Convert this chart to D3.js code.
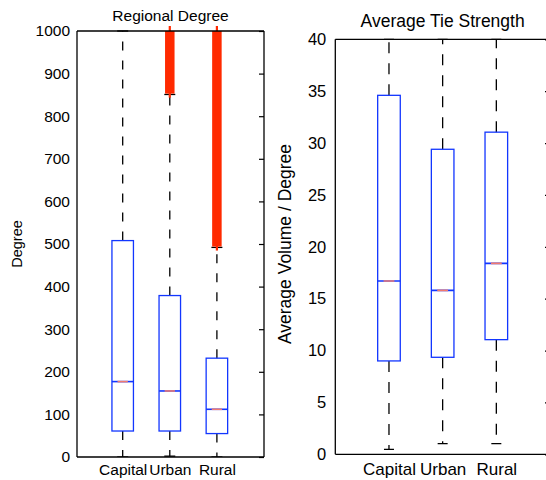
<!DOCTYPE html>
<html>
<head>
<meta charset="utf-8">
<script src="https://cdn.jsdelivr.net/npm/d3@7"></script>
<style>
  html, body { margin: 0; padding: 0; background: #fff; }
  svg { display: block; font-family: "Liberation Sans", Arial, Helvetica, sans-serif; }
</style>
</head>
<body>
<svg id="chart" width="546" height="480"></svg>
<script>
// ---------------- data ----------------
const categories = ["Capital", "Urban", "Rural"];

// Regional Degree
const degTicks = [0, 100, 200, 300, 400, 500, 600, 700, 800, 900, 1000];
const degQ1 = [61, 61, 55];
const degMedian = [177, 155, 112];
const degQ3 = [508, 379, 232];
const degWhiskerLow = [0, 2, 0];
const degWhiskerHigh = [1000, 851, 492];
const degOutlierLow = [null, 853, 494];
const degOutlierHigh = [null, 1000, 1000];

// Average Tie Strength
const tieTicks = [0, 5, 10, 15, 20, 25, 30, 35, 40];
const tieQ1 = [9.0, 9.35, 11.05];
const tieMedian = [16.7, 15.8, 18.4];
const tieQ3 = [34.6, 29.4, 31.05];
const tieWhiskerLow = [0.48, 1.02, 1.02];
const tieWhiskerHigh = [40, 40, 40];

// ---------------- drawing ----------------
const svg = d3.select("#chart");
const BLUE = "#1236ff";
const RED = "#ff2a00";

function panel(opts) {
  const g = svg.append("g");
  const x = d3.scaleLinear().domain(opts.xDomain).range([opts.left, opts.right]);
  const y = d3.scaleLinear().domain(opts.yDomain).range([opts.bottom, opts.top]);
  const clipId = "clip" + opts.id;
  svg.append("clipPath").attr("id", clipId).append("rect")
    .attr("x", opts.left).attr("y", opts.top - 6)
    .attr("width", opts.right - opts.left).attr("height", opts.bottom - opts.top + 6);

  const plot = g.append("g").attr("clip-path", `url(#${clipId})`);
  const bw = opts.boxW, cw = opts.capW;

  categories.forEach((c, i) => {
    const cx = x(i + 1);
    // upper whisker
    plot.append("line").attr("x1", cx).attr("x2", cx)
      .attr("y1", y(opts.q3[i])).attr("y2", y(opts.wHigh[i]))
      .attr("stroke", "#000").attr("stroke-width", 1.3)
      .attr("stroke-dasharray", opts.dash);
    // lower whisker
    plot.append("line").attr("x1", cx).attr("x2", cx)
      .attr("y1", y(opts.q1[i])).attr("y2", y(opts.wLow[i]))
      .attr("stroke", "#000").attr("stroke-width", 1.3)
      .attr("stroke-dasharray", opts.dash);
    // caps
    [opts.wHigh[i], opts.wLow[i]].forEach(v => {
      plot.append("line")
        .attr("x1", cx - cw / 2).attr("x2", cx + cw / 2)
        .attr("y1", y(v)).attr("y2", y(v))
        .attr("stroke", "#000").attr("stroke-width", 1.3);
    });
    // outliers (dense '+' markers forming a band)
    if (opts.oLow && opts.oLow[i] != null) {
      const yl = y(opts.oLow[i]), yh = y(opts.oHigh[i]);
      g.append("rect")
        .attr("x", cx - opts.outW / 2).attr("width", opts.outW)
        .attr("y", yh).attr("height", yl - yh)
        .attr("fill", RED);
      g.append("line").attr("x1", cx).attr("x2", cx)
        .attr("y1", yh - 5).attr("y2", yl + 4)
        .attr("stroke", RED).attr("stroke-width", 2.2);
    }
    // box
    plot.append("rect")
      .attr("x", cx - bw / 2).attr("width", bw)
      .attr("y", y(opts.q3[i])).attr("height", y(opts.q1[i]) - y(opts.q3[i]))
      .attr("fill", "none").attr("stroke", BLUE).attr("stroke-width", 1.3);
    // median
    plot.append("line")
      .attr("x1", cx - bw / 2).attr("x2", cx + bw / 2)
      .attr("y1", y(opts.med[i])).attr("y2", y(opts.med[i]))
      .attr("stroke", BLUE).attr("stroke-width", 1.6);
    plot.append("line")
      .attr("x1", cx - bw * 0.24).attr("x2", cx + bw * 0.24)
      .attr("y1", y(opts.med[i])).attr("y2", y(opts.med[i]))
      .attr("stroke", "#f07a70").attr("stroke-width", 1.6);
  });

  // axes frame
  const frame = g.append("g").attr("stroke", "#000").attr("stroke-width", 1.3);
  frame.append("line").attr("x1", opts.left).attr("x2", opts.left).attr("y1", opts.top).attr("y2", opts.bottom);
  frame.append("line").attr("x1", opts.right).attr("x2", opts.right).attr("y1", opts.top).attr("y2", opts.bottom);
  frame.append("line").attr("x1", opts.left).attr("x2", opts.right).attr("y1", opts.top).attr("y2", opts.top);
  frame.append("line").attr("x1", opts.left).attr("x2", opts.right).attr("y1", opts.bottom).attr("y2", opts.bottom);

  // y axis labels (left)
  const ya = g.append("g").attr("transform", `translate(${opts.left},0)`)
    .call(d3.axisLeft(y).tickValues(opts.ticks).tickSize(0).tickPadding(opts.tickPad).tickFormat(d3.format("d")));
  ya.select(".domain").remove();
  ya.selectAll("text").attr("font-size", opts.tickFont).attr("fill", "#000")
    .attr("font-family", "Liberation Sans, Arial, sans-serif");

  // right inward ticks
  const yr = g.append("g").attr("transform", `translate(${opts.right},0)`)
    .call(d3.axisRight(y).tickValues(opts.ticks).tickSize(-5).tickFormat(""));
  yr.select(".domain").remove();
  yr.selectAll("line").attr("stroke", "#000").attr("stroke-width", 1.2);

  // x axis labels
  const xa = g.append("g").attr("transform", `translate(0,${opts.bottom})`)
    .call(d3.axisBottom(x).tickValues([1, 2, 3]).tickSize(0).tickPadding(opts.xPad)
      .tickFormat(d => categories[d - 1]));
  xa.select(".domain").remove();
  xa.selectAll("text").attr("font-size", opts.xFont).attr("fill", "#000")
    .attr("font-family", "Liberation Sans, Arial, sans-serif");

  // title
  g.append("text").attr("x", (opts.left + opts.right) / 2).attr("y", opts.titleY)
    .attr("text-anchor", "middle").attr("font-size", opts.titleFont).attr("fill", "#000")
    .text(opts.title);

  // y label
  g.append("text")
    .attr("transform", `translate(${opts.yLabelX},${opts.yLabelY}) rotate(-90)`)
    .attr("text-anchor", "middle").attr("font-size", opts.yLabelFont).attr("fill", "#000")
    .text(opts.yLabel);
}

panel({
  id: "L", left: 77, right: 264, top: 31, bottom: 457,
  xDomain: [0.03, 4], yDomain: [0, 1000], ticks: degTicks,
  q1: degQ1, med: degMedian, q3: degQ3, wLow: degWhiskerLow, wHigh: degWhiskerHigh,
  oLow: degOutlierLow, oHigh: degOutlierHigh, outW: 9.5,
  boxW: 21.5, capW: 11, dash: "9,10",
  tickFont: 15.5, tickPad: 7, xFont: 15.5, xPad: 7,
  title: "Regional Degree", titleY: 21, titleFont: 15.5,
  yLabel: "Degree", yLabelX: 22, yLabelY: 244, yLabelFont: 14.5
});

panel({
  id: "R", left: 335.3, right: 550, top: 39.3, bottom: 454.3,
  xDomain: [0, 4], yDomain: [0, 40], ticks: tieTicks,
  q1: tieQ1, med: tieMedian, q3: tieQ3, wLow: tieWhiskerLow, wHigh: tieWhiskerHigh,
  oLow: null, oHigh: null, outW: 10,
  boxW: 22.6, capW: 10, dash: "11,10",
  tickFont: 16.5, tickPad: 9, xFont: 17, xPad: 9,
  title: "Average Tie Strength", titleY: 27, titleFont: 17.5,
  yLabel: "Average Volume / Degree", yLabelX: 291, yLabelY: 244, yLabelFont: 17.5
});
</script>
</body>
</html>
